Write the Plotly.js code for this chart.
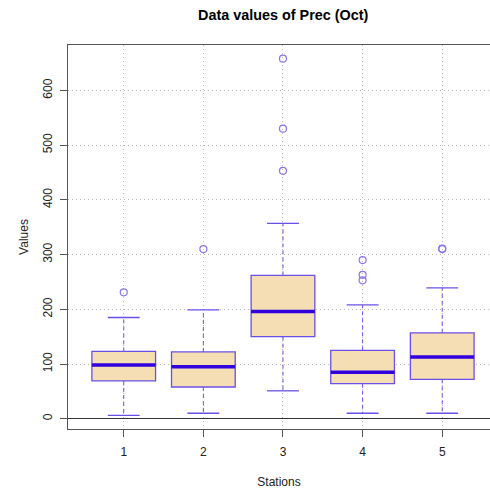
<!DOCTYPE html>
<html>
<head>
<meta charset="utf-8">
<script src="https://cdn.plot.ly/plotly-3.0.1.min.js"></script>
<style>html,body{margin:0;padding:0;background:#fff;}#chart{width:490px;height:493px;}</style>
</head>
<body>
<div id="chart"></div>
<script>
// Data (Prec, October)
var stations = [1, 2, 3, 4, 5];
var tickLabels = ["1", "2", "3", "4", "5"];
var lowerWhisker = [6, 10, 51, 10, 10];
var q1 = [69, 58, 150, 64, 72];
var median = [98, 95, 196, 85, 113];
var q3 = [123, 122, 262, 125, 157];
var upperWhisker = [185, 199, 357, 208, 239];
var outlierStation = [1, 2, 3, 3, 3, 4, 4, 4, 5, 5];
var outlierValue = [231, 310, 658, 530, 453, 290, 263, 253, 310, 311];

var boxLine = "#6a50e8";
var medianColor = "#3000dd";
var pointColor = "#8676f0";
var fill = "#f5deb3";
var boxHalf = 0.4, capHalf = 0.2;

function segs(xs, y0, y1, half) {
  var X = [], Y = [];
  for (var i = 0; i < xs.length; i++) {
    X.push(xs[i] - half, xs[i] + half, null);
    Y.push(y0[i], y1[i], null);
  }
  return {x: X, y: Y};
}
function vsegs(xs, y0, y1) {
  var X = [], Y = [];
  for (var i = 0; i < xs.length; i++) {
    X.push(xs[i], xs[i], null);
    Y.push(y0[i], y1[i], null);
  }
  return {x: X, y: Y};
}

var upW = vsegs(stations, q3, upperWhisker);
var loW = vsegs(stations, q1, lowerWhisker);
var upC = segs(stations, upperWhisker, upperWhisker, capHalf);
var loC = segs(stations, lowerWhisker, lowerWhisker, capHalf);
var med = segs(stations, median, median, boxHalf);

var traces = [
  {type: "box", x: stations, q1: q1, median: median, q3: q3,
   lowerfence: q1, upperfence: q3, width: boxHalf * 2,
   fillcolor: fill, line: {color: boxLine, width: 1.3}, whiskerwidth: 0,
   boxpoints: false, hoverinfo: "skip", showlegend: false},
  {type: "scatter", mode: "lines", x: upW.x.concat(loW.x), y: upW.y.concat(loW.y),
   line: {color: boxLine, width: 1, dash: "4px,3px"}, hoverinfo: "skip", showlegend: false},
  {type: "scatter", mode: "lines", x: upC.x.concat(loC.x), y: upC.y.concat(loC.y),
   line: {color: boxLine, width: 1.3}, hoverinfo: "skip", showlegend: false},
  {type: "scatter", mode: "lines", x: med.x, y: med.y,
   line: {color: medianColor, width: 3.5}, hoverinfo: "skip", showlegend: false},
  {type: "scatter", mode: "markers", x: outlierStation, y: outlierValue,
   marker: {symbol: "circle-open", size: 7, color: pointColor, line: {width: 1.2, color: pointColor}},
   showlegend: false}
];

var font = {family: "Liberation Sans, Arial, sans-serif", size: 12, color: "#222"};
var layout = {
  width: 490, height: 493,
  margin: {l: 68, r: 0, t: 45, b: 64},
  paper_bgcolor: "#fff", plot_bgcolor: "#fff",
  font: font,
  showlegend: false,
  title: {text: "<b>Data values of Prec (Oct)</b>", x: 0.578, xanchor: "center",
          y: 0.97, yanchor: "middle", yref: "container",
          font: {family: "Liberation Sans, Arial, sans-serif", size: 14.4, color: "#000"}},
  xaxis: {range: [0.3, 5.6], tickvals: stations, ticktext: tickLabels,
          ticks: "outside", ticklen: 7, tickcolor: "#555", tickwidth: 1,
          showline: true, mirror: true, linecolor: "#555", linewidth: 1,
          showgrid: true, gridcolor: "#b8b8b8", griddash: "1px,3px", gridwidth: 1,
          zeroline: false, layer: "above traces", ticklabelstandoff: 5,
          title: {text: "Stations", standoff: 19, font: font}},
  yaxis: {range: [-18.8, 683], tickvals: [0, 100, 200, 300, 400, 500, 600],
          tickangle: -90, ticks: "outside", ticklen: 7, tickcolor: "#555", tickwidth: 1,
          showline: true, mirror: false, linecolor: "#555", linewidth: 1,
          showgrid: true, gridcolor: "#b8b8b8", griddash: "1px,3px", gridwidth: 1,
          zeroline: true, zerolinecolor: "#333", zerolinewidth: 1,
          layer: "above traces", ticklabelstandoff: 3,
          title: {text: "Values", standoff: 10, font: font}}
};

Plotly.newPlot("chart", traces, layout, {staticPlot: true, displayModeBar: false});
</script>
</body>
</html>
